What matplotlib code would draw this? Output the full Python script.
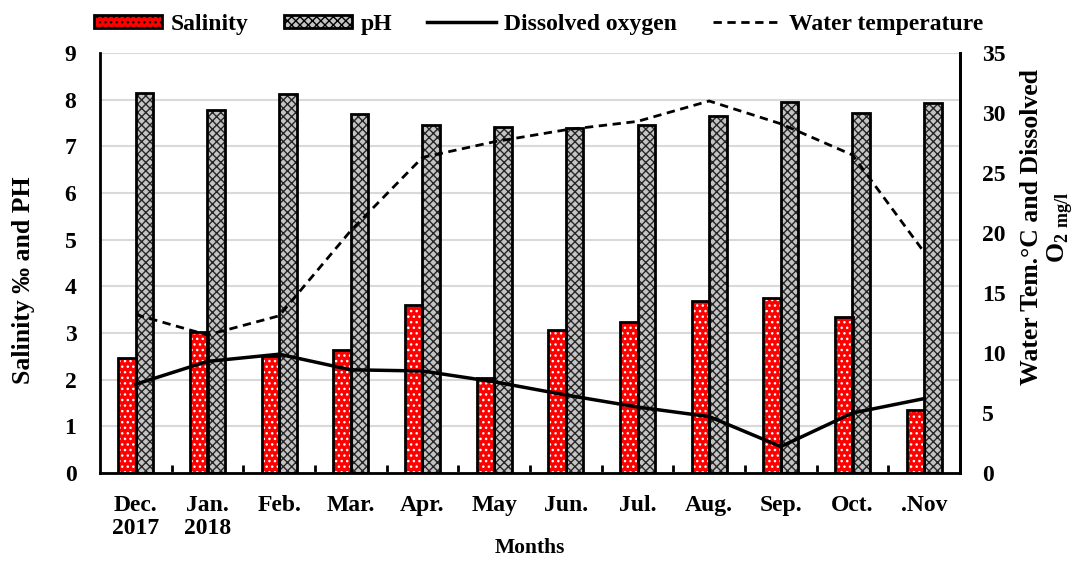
import matplotlib
matplotlib.use('Agg')
import matplotlib.pyplot as plt
from matplotlib.patches import Patch
import numpy as np

plt.rcParams['font.family'] = ['Liberation Serif', 'DejaVu Serif']
plt.rcParams['font.weight'] = 'bold'
plt.rcParams['mathtext.fontset'] = 'custom'
plt.rcParams['mathtext.rm'] = 'Liberation Serif:bold'
plt.rcParams['mathtext.bf'] = 'Liberation Serif:bold'
plt.rcParams['hatch.linewidth'] = 1.0

# Data
months = ['Dec.\n2017', 'Jan.\n2018', 'Feb.', 'Mar.', 'Apr.', 'May', 'Jun.',
          'Jul.', 'Aug.', 'Sep.', 'Oct.', '.Nov']
salinity = [2.46, 3.02, 2.50, 2.64, 3.59, 2.04, 3.06, 3.24, 3.68, 3.76, 3.34, 1.36]
ph = [8.15, 7.77, 8.13, 7.69, 7.45, 7.41, 7.40, 7.45, 7.65, 7.96, 7.71, 7.93]
dissolved_oxygen = [7.4, 9.3, 9.9, 8.6, 8.5, 7.6, 6.5, 5.5, 4.7, 2.2, 5.0, 6.2]
water_temp = [13.2, 11.5, 13.1, 20.2, 26.3, 27.6, 28.6, 29.3, 31.0, 29.1, 26.5, 18.4]

x = np.arange(len(months))
w = 0.244
ph_face = '#c4c4c4'
ph_hatch = '#262626'

fig = plt.figure(figsize=(10.75, 5.65), dpi=100)
ax = fig.add_axes([100/1075, 92/565, 860/1075, 420/565])

# bars: fill with hatch first, then black outline on top
ax.bar(x - w/2, salinity, w, color='#ff0000', edgecolor='white', hatch='...', lw=0, zorder=2)
ax.bar(x - w/2, salinity, w, facecolor='none', edgecolor='black', lw=2, zorder=3)
ax.bar(x + w/2, ph, w, color=ph_face, edgecolor=ph_hatch, hatch='xxxx', lw=0, zorder=2)
ax.bar(x + w/2, ph, w, facecolor='none', edgecolor='black', lw=2, zorder=3)

ax.set_xlim(-0.5, 11.5)
ax.set_ylim(0, 9)
ax.set_yticks(range(0, 10))
ax.yaxis.grid(True, color='#d9d9d9', lw=1.5, zorder=0)
ax.set_axisbelow(True)
ax.set_xticks(x)
ax.set_xticklabels(months, fontsize=17, fontweight='bold', linespacing=1.1)
ax.set_xticks(np.arange(0.5, 11.5, 1), minor=True)
ax.tick_params(axis='x', which='major', length=0, pad=16)
ax.tick_params(axis='x', which='minor', direction='in', length=6, width=2)
ax.tick_params(axis='y', length=0, labelsize=17, pad=17)
for lab in ax.get_yticklabels():
    lab.set_fontweight('bold')
ax.spines['top'].set_visible(False)
for s in ['left', 'bottom', 'right']:
    ax.spines[s].set_linewidth(2)
ax.set_xlabel('Months', fontsize=15.5, fontweight='bold')
ax.xaxis.set_label_coords(0.5, -0.155)
ax.set_ylabel('Salinity \u2030 and PH', fontsize=18.5, fontweight='bold')
ax.yaxis.set_label_coords(-0.075, 0.46)

ax2 = ax.twinx()
ax2.set_ylim(0, 35)
ax2.set_yticks(range(0, 36, 5))
ax2.tick_params(axis='y', length=0, labelsize=17, pad=16)
for lab in ax2.get_yticklabels():
    lab.set_fontweight('bold')
ax2.spines['top'].set_visible(False)
ax2.spines['right'].set_linewidth(2)
do_line, = ax2.plot(x, dissolved_oxygen, color='black', lw=2.5, zorder=4)
wt_line, = ax2.plot(x, water_temp, color='black', lw=2, ls=(0, (3, 2)), zorder=4)
ax2.set_ylabel('Water Tem.\u00b0C and Dissolved\nO$_{2\\ \\mathrm{mg/ l}}$',
               fontsize=18.5, fontweight='bold', linespacing=1.1)
ax2.yaxis.set_label_coords(1.07, 0.585)

# legend handles mimic bar styles
h_sal = Patch(facecolor='#ff0000', edgecolor='black', lw=2, hatch='...')
h_ph = Patch(facecolor=ph_face, edgecolor='black', lw=2, hatch='xxxx')
leg = ax.legend([h_sal, h_ph, do_line, wt_line],
                ['Salinity', 'pH', 'Dissolved oxygen', 'Water temperature'],
                loc='lower center', bbox_to_anchor=(0.51, 1.01), ncol=4, frameon=False,
                fontsize=17, handlelength=2.9, handleheight=0.5, columnspacing=1.5,
                handletextpad=0.35, borderaxespad=0.2)
for t in leg.get_texts():
    t.set_fontweight('bold')

fig.savefig('out.png', dpi=100)
